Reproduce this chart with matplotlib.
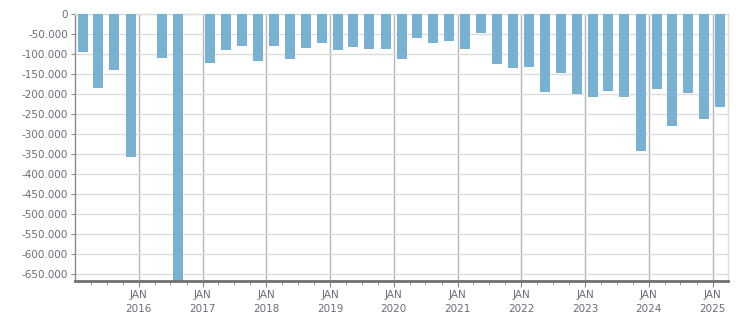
import datetime as dt

import matplotlib
matplotlib.use("Agg")
import matplotlib.dates as mdates
import matplotlib.pyplot as plt
import numpy as np
from matplotlib.ticker import FuncFormatter, MultipleLocator

# quarterly values, Q1 2015 .. Q1 2025 (None = no bar shown)
quarters = [(y, q) for y in range(2015, 2026) for q in range(1, 5)][:41]
values = [
    -95000, -184000, -139000, -357000,
    None, -109000, -700000, None,
    -122000, -90000, -79000, -117000,
    -79000, -112000, -84000, -72000,
    -89000, -82000, -87000, -87000,
    -112000, -59000, -72000, -67000,
    -87000, -47000, -124000, -134000,
    -132000, -194000, -147000, -199000,
    -207000, -192000, -207000, -342000,
    -187000, -279000, -197000, -262000,
    -232000,
]
years = list(range(2016, 2026))

BAR_COLOR = "#79b1d3"
TEXT_COLOR = "#6e6a78"


def quarter_mid(year, q):
    # centre of the quarter's middle month
    return dt.date(year, 3 * q - 1, 15)


dates = [quarter_mid(y, q) for (y, q) in quarters]
x = mdates.date2num(dates)
y = np.array([np.nan if v is None else v for v in values], dtype=float)

x0 = mdates.date2num(dt.date(2015, 1, 1))
x1 = mdates.date2num(dt.date(2025, 4, 1))

fig = plt.figure(figsize=(7.51, 3.13), dpi=100)
ax = fig.add_axes([0.0999, 0.1032, 0.8699, 0.8521])

ax.bar(x, np.nan_to_num(y), width=57, color=BAR_COLOR, zorder=3)

ax.yaxis.set_major_locator(MultipleLocator(50000))
ax.yaxis.set_major_formatter(
    FuncFormatter(lambda v, _: "0" if v == 0 else f"{int(v):,}".replace(",", "."))
)

major = [mdates.date2num(dt.date(yr, 1, 1)) for yr in years]
minor = [mdates.date2num(dt.date(yr, m, 1)) for yr in range(2015, 2026) for m in (1, 4, 7, 10)]
minor = [m for m in minor if m not in major and x0 < m < x1]
ax.set_xticks(major)
ax.set_xticklabels([f"JAN\n{yr}" for yr in years])
ax.set_xticks(minor, minor=True)

ax.set_xlim(x0, x1)
ax.set_ylim(-667000, 0)

ax.grid(axis="y", color="#dcdcdc", linewidth=1, zorder=0)
ax.grid(axis="x", which="major", color="#b4b4b4", linewidth=1, zorder=1)

for side in ("top", "right"):
    ax.spines[side].set_color("#dcdcdc")
    ax.spines[side].set_linewidth(1)
ax.spines["left"].set_color("#8a8a8a")
ax.spines["left"].set_linewidth(1)
ax.spines["bottom"].set_color("#707070")
ax.spines["bottom"].set_linewidth(2)
ax.spines["bottom"].set_zorder(5)

ax.tick_params(axis="y", length=3, color="#8a8a8a", labelsize=7.5, labelcolor=TEXT_COLOR, pad=2)
ax.tick_params(axis="x", which="major", length=4, color="#8a8a8a", labelsize=7.5,
               labelcolor=TEXT_COLOR, pad=3)
ax.tick_params(axis="x", which="minor", length=3, color="#8a8a8a")
for lbl in ax.get_xticklabels():
    lbl.set_linespacing(1.5)

fig.savefig("out.png", dpi=100)
